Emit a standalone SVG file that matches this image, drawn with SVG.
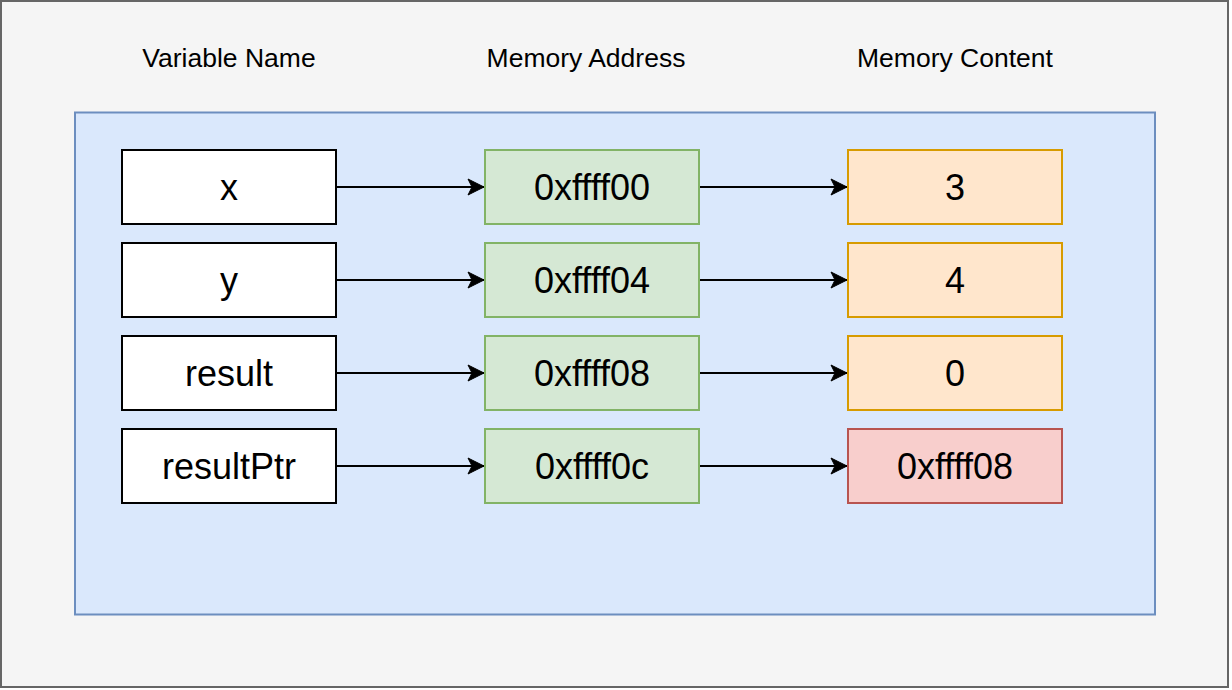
<svg xmlns="http://www.w3.org/2000/svg" width="1232" height="690" viewBox="0 0 1232 690">
<style>
.hdr{font-family:"Liberation Sans",Arial,Helvetica,sans-serif;font-size:26.5px;fill:#000;text-anchor:middle}
.lbl{font-family:"Liberation Sans",Arial,Helvetica,sans-serif;font-size:36px;fill:#000;text-anchor:middle}
.var{fill:#ffffff;stroke:#000000;stroke-width:2}
.addr{fill:#d5e8d4;stroke:#82b366;stroke-width:2}
.cont{fill:#ffe6cc;stroke:#d79b00;stroke-width:2}
.ptr{fill:#f8cecc;stroke:#b85450;stroke-width:2}
.edge{stroke:#000;stroke-width:2;fill:none;marker-end:url(#arr)}
</style>
<defs>
<marker id="arr" markerUnits="userSpaceOnUse" markerWidth="20" markerHeight="20" viewBox="0 0 20 20" refX="17" refY="10" orient="auto">
<path d="M17,10 L1,2 L5,10 L1,18 Z" fill="#000" stroke="#000" stroke-width="1"/>
</marker>
</defs>
<rect id="background" x="1" y="1" width="1227" height="686" fill="#f5f5f5" stroke="#666666" stroke-width="2"/>
<g id="headers">
<text class="hdr" x="229" y="67">Variable Name</text>
<text class="hdr" x="586" y="67">Memory Address</text>
<text class="hdr" x="955" y="67">Memory Content</text>
</g>
<rect id="memory-area" x="75" y="112.5" width="1080" height="502" fill="#dae8fc" stroke="#6c8ebf" stroke-width="2"/>
<g id="connectors">
<line class="edge" x1="336" y1="187" x2="484" y2="187"/>
<line class="edge" x1="699" y1="187" x2="847" y2="187"/>
<line class="edge" x1="336" y1="280" x2="484" y2="280"/>
<line class="edge" x1="699" y1="280" x2="847" y2="280"/>
<line class="edge" x1="336" y1="373" x2="484" y2="373"/>
<line class="edge" x1="699" y1="373" x2="847" y2="373"/>
<line class="edge" x1="336" y1="466" x2="484" y2="466"/>
<line class="edge" x1="699" y1="466" x2="847" y2="466"/>
</g>
<g id="var-x"><rect class="var" x="122" y="150" width="214" height="74"/><text class="lbl" x="229" y="199.5">x</text></g>
<g id="var-y"><rect class="var" x="122" y="243" width="214" height="74"/><text class="lbl" x="229" y="292.5">y</text></g>
<g id="var-result"><rect class="var" x="122" y="336" width="214" height="74"/><text class="lbl" x="229" y="385.5">result</text></g>
<g id="var-resultPtr"><rect class="var" x="122" y="429" width="214" height="74"/><text class="lbl" x="229" y="478.5">resultPtr</text></g>
<g id="addr-x"><rect class="addr" x="485" y="150" width="214" height="74"/><text class="lbl" x="592" y="199.5">0xffff00</text></g>
<g id="addr-y"><rect class="addr" x="485" y="243" width="214" height="74"/><text class="lbl" x="592" y="292.5">0xffff04</text></g>
<g id="addr-result"><rect class="addr" x="485" y="336" width="214" height="74"/><text class="lbl" x="592" y="385.5">0xffff08</text></g>
<g id="addr-resultPtr"><rect class="addr" x="485" y="429" width="214" height="74"/><text class="lbl" x="592" y="478.5">0xffff0c</text></g>
<g id="cont-x"><rect class="cont" x="848" y="150" width="214" height="74"/><text class="lbl" x="955" y="199.5">3</text></g>
<g id="cont-y"><rect class="cont" x="848" y="243" width="214" height="74"/><text class="lbl" x="955" y="292.5">4</text></g>
<g id="cont-result"><rect class="cont" x="848" y="336" width="214" height="74"/><text class="lbl" x="955" y="385.5">0</text></g>
<g id="cont-resultPtr"><rect class="ptr" x="848" y="429" width="214" height="74"/><text class="lbl" x="955" y="478.5">0xffff08</text></g>
</svg>
